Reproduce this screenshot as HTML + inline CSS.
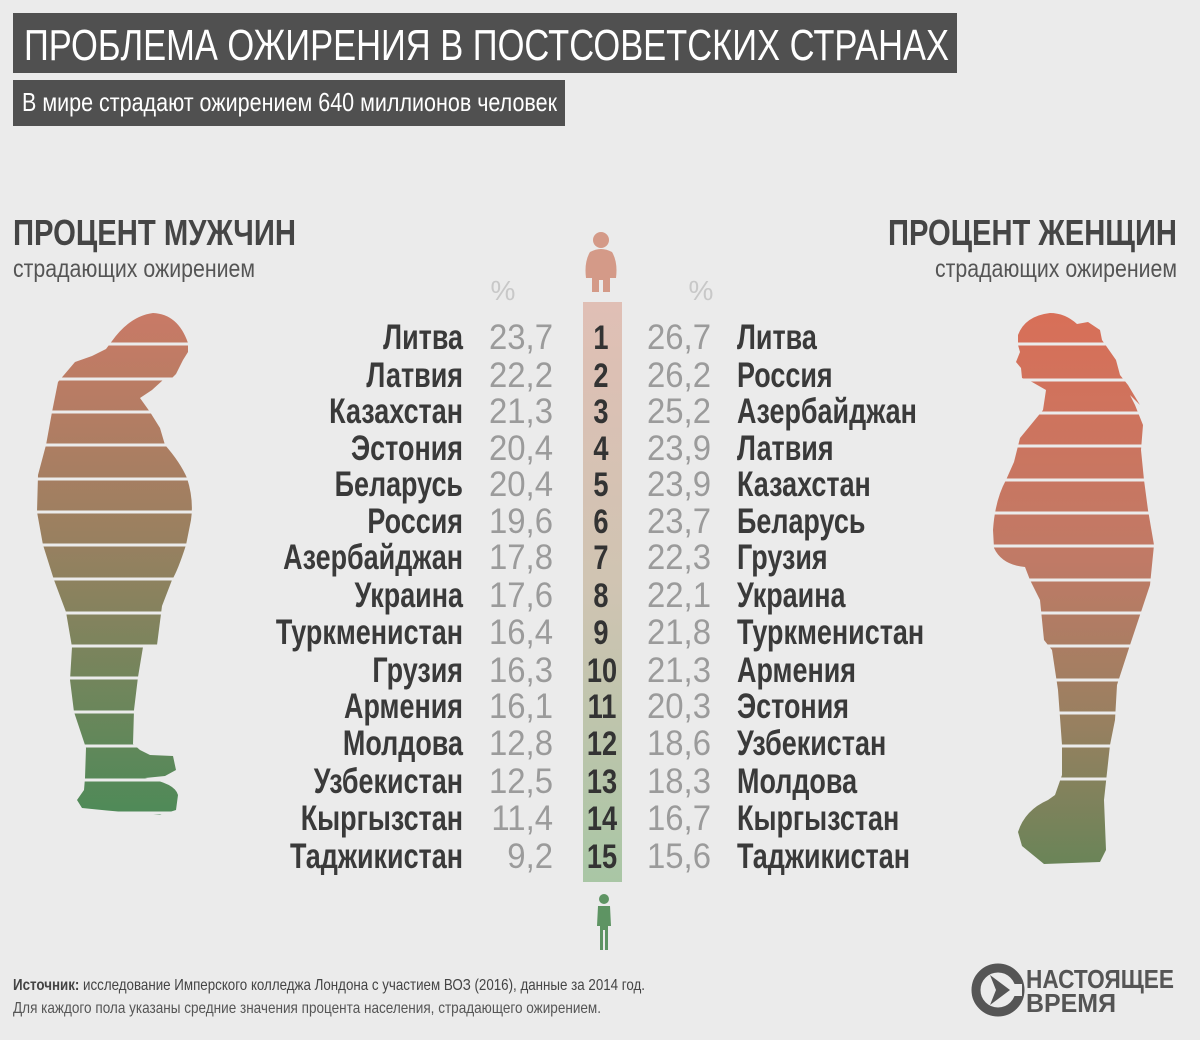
<!DOCTYPE html>
<html><head><meta charset="utf-8"><style>
html,body{margin:0;padding:0;background:#ebebeb;}
svg{display:block;font-family:"Liberation Sans",sans-serif;}
</style></head><body>
<svg width="1200" height="1040" viewBox="0 0 1200 1040" xmlns="http://www.w3.org/2000/svg">
<defs>
<linearGradient id="mg" x1="0" y1="0" x2="0" y2="1"><stop offset="0" stop-color="#c97a66"/><stop offset="0.45" stop-color="#998060"/><stop offset="1" stop-color="#4e8a58"/></linearGradient>
<linearGradient id="wg" x1="0" y1="0" x2="0" y2="1"><stop offset="0" stop-color="#d86f58"/><stop offset="0.45" stop-color="#c07a66"/><stop offset="0.75" stop-color="#978060"/><stop offset="1" stop-color="#6a8458"/></linearGradient>
<linearGradient id="bg" x1="0" y1="0" x2="0" y2="1"><stop offset="0" stop-color="#e0bfb5"/><stop offset="0.5" stop-color="#cfc4b2"/><stop offset="1" stop-color="#a9c6a5"/></linearGradient>
</defs>
<rect width="1200" height="1040" fill="#ebebeb"/>
<rect x="13" y="13" width="944" height="60" fill="#505050"/>
<text x="24" y="60" font-size="44" fill="#fff" textLength="925" lengthAdjust="spacingAndGlyphs">ПРОБЛЕМА ОЖИРЕНИЯ В ПОСТСОВЕТСКИХ СТРАНАХ</text>
<rect x="13" y="80" width="552" height="46" fill="#505050"/>
<text x="22" y="111" font-size="26" fill="#fff" textLength="535" lengthAdjust="spacingAndGlyphs">В мире страдают ожирением 640 миллионов человек</text>

<text x="13" y="245" font-size="36" font-weight="bold" fill="#454545" textLength="283" lengthAdjust="spacingAndGlyphs">ПРОЦЕНТ МУЖЧИН</text>
<text x="13" y="277" font-size="25" fill="#555" textLength="242" lengthAdjust="spacingAndGlyphs">страдающих ожирением</text>
<text x="1177" y="245" font-size="36" font-weight="bold" fill="#454545" text-anchor="end" textLength="289" lengthAdjust="spacingAndGlyphs">ПРОЦЕНТ ЖЕНЩИН</text>
<text x="1177" y="277" font-size="25" fill="#555" text-anchor="end" textLength="242" lengthAdjust="spacingAndGlyphs">страдающих ожирением</text>

<text x="503" y="300" font-size="28" fill="#c8c8c8" text-anchor="middle">%</text>
<text x="701" y="300" font-size="28" fill="#c8c8c8" text-anchor="middle">%</text>

<g fill="#d49a88"><circle cx="601" cy="240" r="8"/><path d="M590 252 Q601 246 612 252 Q618 262 616 278 L610 278 L610 292 L603 292 L603 280 L599 280 L599 292 L592 292 L592 278 L586 278 Q584 262 590 252Z"/></g>
<g fill="#5e9463"><circle cx="604" cy="899" r="5"/><path d="M598 906 L610 906 L611 926 L608 926 L608 950 L605 950 L605 930 L603 930 L603 950 L600 950 L600 926 L597 926Z"/></g>

<rect x="583" y="302" width="39" height="580" fill="url(#bg)"/>

<path fill="url(#mg)" d="M153 313 Q178 314 188 343 L188 352 L183 360 L176 374 L172 378 L163 380 L152 390 L140 398 L150 412 L160 428 L165 445 Q180 462 187 478 Q194 500 191 520 L186 545 Q178 570 172 580 L162 606 L157 645 L143 647 L138 677 L134 710 L133 744 L140 750 L150 755 L173 756 L176 770 L165 776 L145 778 Q175 783 178 795 L176 810 L160 815 Q120 812 82 808 L77 800 L84 790 L85 778 L86 748 L74 712 L70 680 L72 647 L66 612 L54 580 L43 545 L37 512 L38 475 L46 445 L52 412 L58 382 L75 362 L92 356 L106 349 L112 341 Q130 316 153 313Z"/>
<path fill="url(#wg)" d="M1050 313 Q1025 316 1018 335 L1018 345 L1020 352 L1016 362 L1021 368 L1022 378 L1032 382 L1046 390 L1043 410 L1020 438 L1014 462 L1006 480 Q995 500 993 530 L994 548 Q1002 565 1025 567 L1030 580 L1040 600 L1044 640 L1052 650 L1058 690 L1062 745 L1062 775 L1055 795 L1048 800 Q1025 810 1018 832 L1022 846 L1044 864 L1100 862 L1106 850 L1104 800 L1110 745 L1115 720 L1117 685 L1130 645 L1150 585 L1154 545 L1148 510 L1144 480 L1141 450 L1143 425 L1135 405 L1130 395 L1140 405 L1128 385 L1120 375 L1116 360 L1102 340 L1100 330 L1088 322 L1077 324 Q1065 313 1050 313Z"/>
<g stroke="#ebebeb" stroke-width="3">
<line x1="20" x2="200" y1="344" y2="344"/><line x1="20" x2="200" y1="379" y2="379"/><line x1="20" x2="200" y1="412" y2="412"/><line x1="20" x2="200" y1="445" y2="445"/><line x1="20" x2="200" y1="479" y2="479"/><line x1="20" x2="200" y1="512" y2="512"/><line x1="20" x2="200" y1="545" y2="545"/><line x1="20" x2="200" y1="579" y2="579"/><line x1="20" x2="200" y1="613" y2="613"/><line x1="20" x2="200" y1="646" y2="646"/><line x1="20" x2="200" y1="678" y2="678"/><line x1="20" x2="200" y1="712" y2="712"/><line x1="20" x2="200" y1="746" y2="746"/><line x1="20" x2="200" y1="780" y2="780"/><line x1="20" x2="200" y1="813" y2="813"/>
<line x1="980" x2="1170" y1="344" y2="344"/><line x1="980" x2="1170" y1="380" y2="380"/><line x1="980" x2="1170" y1="413" y2="413"/><line x1="980" x2="1170" y1="446" y2="446"/><line x1="980" x2="1170" y1="480" y2="480"/><line x1="980" x2="1170" y1="513" y2="513"/><line x1="980" x2="1170" y1="546" y2="546"/><line x1="980" x2="1170" y1="580" y2="580"/><line x1="980" x2="1170" y1="613" y2="613"/><line x1="980" x2="1170" y1="646" y2="646"/><line x1="980" x2="1170" y1="680" y2="680"/><line x1="980" x2="1170" y1="713" y2="713"/><line x1="980" x2="1170" y1="746" y2="746"/><line x1="980" x2="1170" y1="779" y2="779"/>
</g>

<g font-size="35" fill="#3a3a3a" font-weight="bold">
<g text-anchor="end">
<text transform="translate(463,349) scale(0.77,1)">Литва</text>
<text transform="translate(463,387) scale(0.77,1)">Латвия</text>
<text transform="translate(463,423) scale(0.77,1)">Казахстан</text>
<text transform="translate(463,460) scale(0.77,1)">Эстония</text>
<text transform="translate(463,496) scale(0.77,1)">Беларусь</text>
<text transform="translate(463,533) scale(0.77,1)">Россия</text>
<text transform="translate(463,569) scale(0.77,1)">Азербайджан</text>
<text transform="translate(463,607) scale(0.77,1)">Украина</text>
<text transform="translate(463,644) scale(0.77,1)">Туркменистан</text>
<text transform="translate(463,682) scale(0.77,1)">Грузия</text>
<text transform="translate(463,718) scale(0.77,1)">Армения</text>
<text transform="translate(463,755) scale(0.77,1)">Молдова</text>
<text transform="translate(463,793) scale(0.77,1)">Узбекистан</text>
<text transform="translate(463,830) scale(0.77,1)">Кыргызстан</text>
<text transform="translate(463,868) scale(0.77,1)">Таджикистан</text>
</g>
<g>
<text transform="translate(737,349) scale(0.77,1)">Литва</text>
<text transform="translate(737,387) scale(0.77,1)">Россия</text>
<text transform="translate(737,423) scale(0.77,1)">Азербайджан</text>
<text transform="translate(737,460) scale(0.77,1)">Латвия</text>
<text transform="translate(737,496) scale(0.77,1)">Казахстан</text>
<text transform="translate(737,533) scale(0.77,1)">Беларусь</text>
<text transform="translate(737,569) scale(0.77,1)">Грузия</text>
<text transform="translate(737,607) scale(0.77,1)">Украина</text>
<text transform="translate(737,644) scale(0.77,1)">Туркменистан</text>
<text transform="translate(737,682) scale(0.77,1)">Армения</text>
<text transform="translate(737,718) scale(0.77,1)">Эстония</text>
<text transform="translate(737,755) scale(0.77,1)">Узбекистан</text>
<text transform="translate(737,793) scale(0.77,1)">Молдова</text>
<text transform="translate(737,830) scale(0.77,1)">Кыргызстан</text>
<text transform="translate(737,868) scale(0.77,1)">Таджикистан</text>
</g>
<g text-anchor="middle" font-size="34" fill="#333">
<text transform="translate(601,349) scale(0.8,1)">1</text>
<text transform="translate(601,387) scale(0.8,1)">2</text>
<text transform="translate(601,423) scale(0.8,1)">3</text>
<text transform="translate(601,460) scale(0.8,1)">4</text>
<text transform="translate(601,496) scale(0.8,1)">5</text>
<text transform="translate(601,533) scale(0.8,1)">6</text>
<text transform="translate(601,569) scale(0.8,1)">7</text>
<text transform="translate(601,607) scale(0.8,1)">8</text>
<text transform="translate(601,644) scale(0.8,1)">9</text>
<text transform="translate(602,682) scale(0.8,1)">10</text>
<text transform="translate(602,718) scale(0.8,1)">11</text>
<text transform="translate(602,755) scale(0.8,1)">12</text>
<text transform="translate(602,793) scale(0.8,1)">13</text>
<text transform="translate(602,830) scale(0.8,1)">14</text>
<text transform="translate(602,868) scale(0.8,1)">15</text>
</g>
</g>
<g font-size="35" fill="#9b9b9b" text-anchor="end">
<text transform="translate(553,349) scale(0.94,1)">23,7</text>
<text transform="translate(553,387) scale(0.94,1)">22,2</text>
<text transform="translate(553,423) scale(0.94,1)">21,3</text>
<text transform="translate(553,460) scale(0.94,1)">20,4</text>
<text transform="translate(553,496) scale(0.94,1)">20,4</text>
<text transform="translate(553,533) scale(0.94,1)">19,6</text>
<text transform="translate(553,569) scale(0.94,1)">17,8</text>
<text transform="translate(553,607) scale(0.94,1)">17,6</text>
<text transform="translate(553,644) scale(0.94,1)">16,4</text>
<text transform="translate(553,682) scale(0.94,1)">16,3</text>
<text transform="translate(553,718) scale(0.94,1)">16,1</text>
<text transform="translate(553,755) scale(0.94,1)">12,8</text>
<text transform="translate(553,793) scale(0.94,1)">12,5</text>
<text transform="translate(553,830) scale(0.94,1)">11,4</text>
<text transform="translate(553,868) scale(0.94,1)">9,2</text>
<text transform="translate(711,349) scale(0.94,1)">26,7</text>
<text transform="translate(711,387) scale(0.94,1)">26,2</text>
<text transform="translate(711,423) scale(0.94,1)">25,2</text>
<text transform="translate(711,460) scale(0.94,1)">23,9</text>
<text transform="translate(711,496) scale(0.94,1)">23,9</text>
<text transform="translate(711,533) scale(0.94,1)">23,7</text>
<text transform="translate(711,569) scale(0.94,1)">22,3</text>
<text transform="translate(711,607) scale(0.94,1)">22,1</text>
<text transform="translate(711,644) scale(0.94,1)">21,8</text>
<text transform="translate(711,682) scale(0.94,1)">21,3</text>
<text transform="translate(711,718) scale(0.94,1)">20,3</text>
<text transform="translate(711,755) scale(0.94,1)">18,6</text>
<text transform="translate(711,793) scale(0.94,1)">18,3</text>
<text transform="translate(711,830) scale(0.94,1)">16,7</text>
<text transform="translate(711,868) scale(0.94,1)">15,6</text>
</g>

<text x="13" y="990" font-size="16" fill="#444" textLength="632" lengthAdjust="spacingAndGlyphs"><tspan font-weight="bold">Источник:</tspan>  исследование Имперского колледжа Лондона с участием ВОЗ (2016), данные за 2014 год.</text>
<text x="13" y="1013" font-size="16" fill="#555" textLength="588" lengthAdjust="spacingAndGlyphs">Для каждого пола указаны средние значения процента населения, страдающего ожирением.</text>

<circle cx="998" cy="990" r="22" fill="none" stroke="#555" stroke-width="9"/>
<path d="M990 975 L1010 990 L990 1005 L996 990Z" fill="#555"/>
<rect x="1014" y="984" width="8" height="12" fill="#ebebeb"/>
<text x="1026" y="988" font-size="26" font-weight="bold" fill="#555" textLength="148" lengthAdjust="spacingAndGlyphs">НАСТОЯЩЕЕ</text>
<text x="1026" y="1012" font-size="26" font-weight="bold" fill="#555" textLength="90" lengthAdjust="spacingAndGlyphs">ВРЕМЯ</text>
</svg>
</body></html>
